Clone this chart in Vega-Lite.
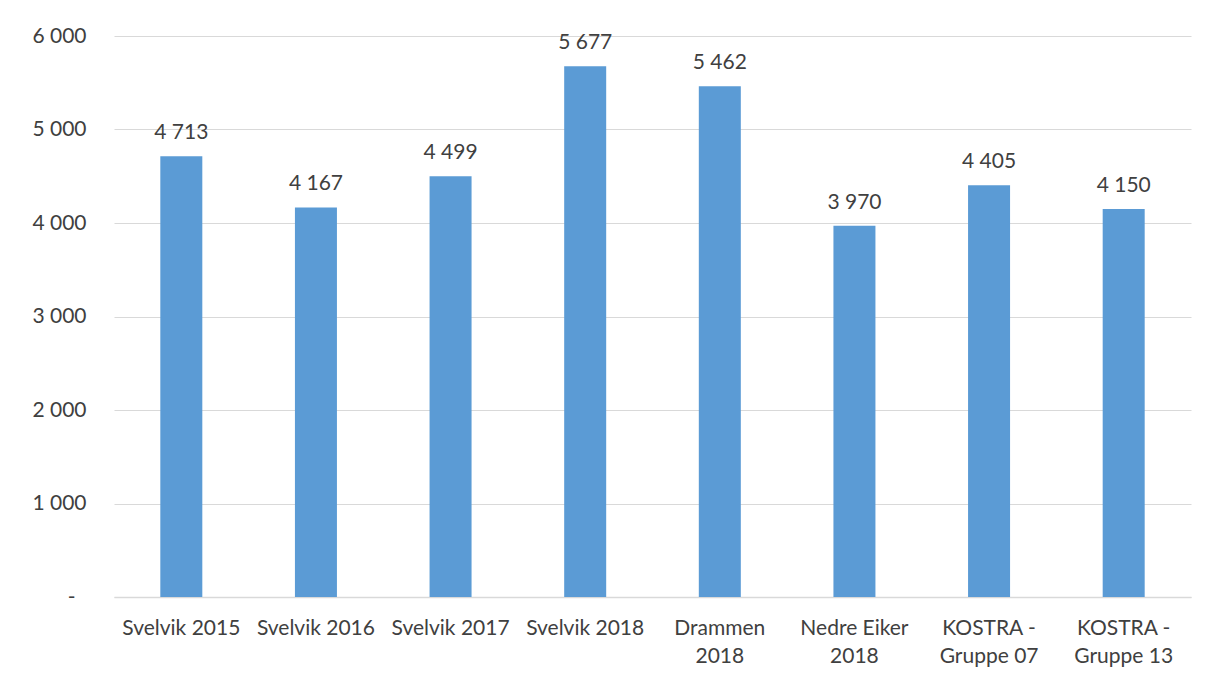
{
  "$schema": "https://vega.github.io/schema/vega-lite/v6.json",
  "autosize": {"type": "none"},
  "width": 1077,
  "height": 561,
  "padding": {"left": 114, "top": 36, "right": 25, "bottom": 86},
  "background": "white",
  "config": {
    "locale": {"number": {"decimal": ",", "thousands": "\u00a0", "grouping": [3], "currency": ["", ""]}},
    "view": {"stroke": null},
    "font": "Lato"
  },
  "data": {
    "values": [
      {"kategori": "Svelvik 2015", "verdi": 4713},
      {"kategori": "Svelvik 2016", "verdi": 4167},
      {"kategori": "Svelvik 2017", "verdi": 4499},
      {"kategori": "Svelvik 2018", "verdi": 5677},
      {"kategori": "Drammen 2018", "verdi": 5462},
      {"kategori": "Nedre Eiker 2018", "verdi": 3970},
      {"kategori": "KOSTRA - Gruppe 07", "verdi": 4405},
      {"kategori": "KOSTRA - Gruppe 13", "verdi": 4150}
    ]
  },
  "encoding": {
    "x": {
      "field": "kategori",
      "type": "nominal",
      "sort": null,
      "scale": {"paddingInner": 0.688, "paddingOuter": 0.344},
      "axis": {
        "title": null,
        "labelAngle": 0,
        "labelFont": "Lato",
        "labelFontSize": 21,
        "labelColor": "#404040",
        "labelPadding": 20,
        "labelLineHeight": 28,
        "labelBaseline": "top",
        "ticks": false,
        "domainColor": "#D9D9D9",
        "domainWidth": 1.5,
        "labelExpr": "datum.value == 'Drammen 2018' ? ['Drammen', '2018'] : datum.value == 'Nedre Eiker 2018' ? ['Nedre Eiker', '2018'] : datum.value == 'KOSTRA - Gruppe 07' ? ['KOSTRA -', 'Gruppe 07'] : datum.value == 'KOSTRA - Gruppe 13' ? ['KOSTRA -', 'Gruppe 13'] : datum.value"
      }
    },
    "y": {
      "field": "verdi",
      "type": "quantitative",
      "scale": {"domain": [0, 6000], "nice": false},
      "axis": {
        "title": null,
        "values": [0, 1000, 2000, 3000, 4000, 5000, 6000],
        "format": ",d",
        "labelExpr": "datum.value == 0 ? '-' : datum.label",
        "labelFont": "Lato",
        "labelFontSize": 21,
        "labelColor": "#404040",
        "labelPadding": {"condition": {"test": "datum.value == 0", "value": 39}, "value": 28},
        "ticks": false,
        "domain": false,
        "grid": true,
        "gridColor": "#D9D9D9",
        "gridWidth": 1.2
      }
    }
  },
  "layer": [
    {"mark": {"type": "bar", "color": "#5B9BD5"}},
    {
      "mark": {"type": "text", "baseline": "alphabetic", "dy": -17, "font": "Lato", "fontSize": 21, "color": "#404040"},
      "encoding": {"text": {"field": "verdi", "type": "quantitative", "format": ",d"}}
    }
  ]
}
